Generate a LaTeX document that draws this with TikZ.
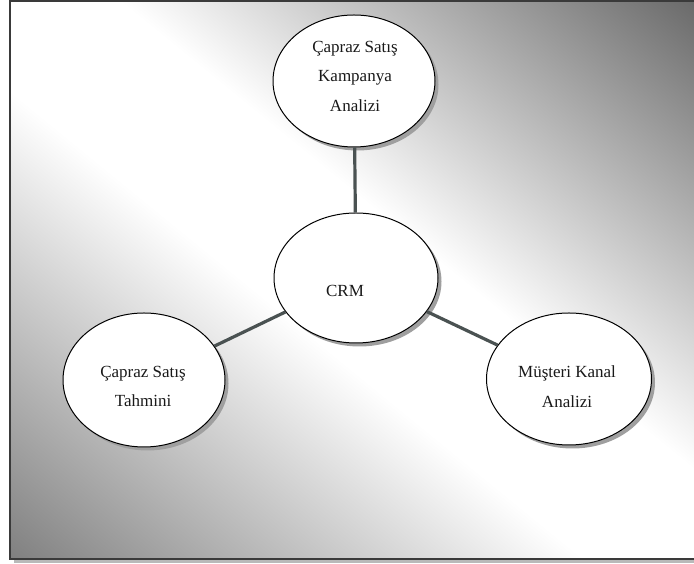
\documentclass[tikz,border=0pt]{standalone}
\usepackage{fontspec}
\setmainfont{Liberation Serif}
\usetikzlibrary{shapes.geometric,shadows}
\definecolor{bgdarkA}{HTML}{808080}
\definecolor{bgdarkB}{HTML}{6A6A6A}
\definecolor{framecol}{HTML}{3A3A3A}
\definecolor{linkcol}{HTML}{4A5252}
\pgfdeclareverticalshading{bgband}{100bp}{color(0bp)=(bgdarkA); color(25bp)=(bgdarkA); color(46bp)=(white); color(54bp)=(white); color(75bp)=(bgdarkB); color(100bp)=(bgdarkB)}
\begin{document}
\begin{tikzpicture}[x=1pt,y=1pt,
  bubble/.style={ellipse, draw=black, line width=1pt, fill=white, inner sep=0pt,
    drop shadow={shadow xshift=3.5pt, shadow yshift=-3.5pt, fill=gray!75, opacity=1}},
  lbl/.style={align=center, anchor=north, inner sep=0pt, font=\fontsize{17}{29.5}\selectfont, text=black!90},
  link/.style={draw=linkcol, line width=3.2pt}]
\useasboundingbox (0,0) rectangle (694,564);
\fill[white] (0,0) rectangle (694,564);
\fill[gray!55] (14,1) rectangle (694,4.5);
\begin{scope}
  \clip (10,5) rectangle (700,563);
  \begin{scope}[transform canvas={shift={(352,284)},rotate=-39.2}]
    \shade[shading=bgband] (-470,-432) rectangle (470,432);
  \end{scope}
\end{scope}
\draw[framecol, line width=2pt] (10,5) rectangle (700,563);

\node[bubble, minimum width=162pt, minimum height=132pt] (camp) at (354,483) {};
\node[bubble, minimum width=164pt, minimum height=130pt] (crm) at (356,286) {};
\node[bubble, minimum width=162pt, minimum height=134pt] (pred) at (144,184) {};
\node[bubble, minimum width=165pt, minimum height=132pt] (chan) at (569,185) {};

\draw[link] (camp) -- (crm);
\draw[link] (crm) -- (pred);
\draw[link] (crm) -- (chan);

\node[lbl] (tcamp) at (355,523) {Çapraz Satış\\Kampanya\\Analizi};
\node[lbl] (tcrm) at (345,279) {CRM};
\node[lbl] (tpred) at (143,198) {Çapraz Satış\\Tahmini};
\node[lbl] (tchan) at (567,198) {Müşteri Kanal\\Analizi};
\end{tikzpicture}
\end{document}
